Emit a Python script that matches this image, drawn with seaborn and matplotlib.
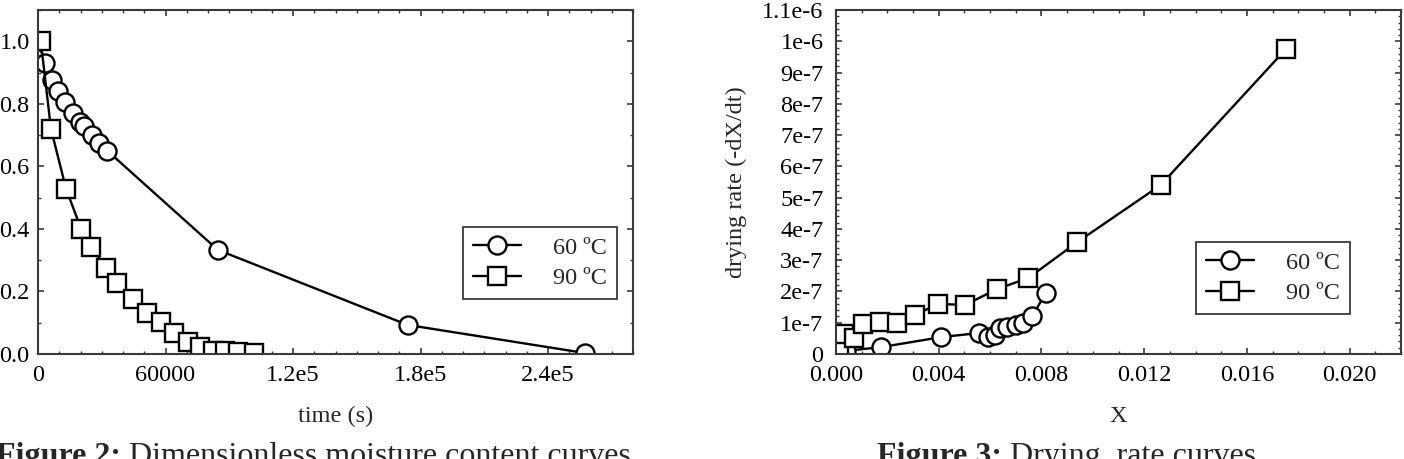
import matplotlib
matplotlib.use("Agg")
import pandas as pd
import matplotlib.pyplot as plt
import seaborn as sns
from matplotlib.ticker import MultipleLocator

# Figure 2 data: dimensionless moisture content vs time
t_60 = [0, 3300, 6600, 9400, 12700, 16500, 19800, 21700, 25500, 28800, 32600, 84600, 173900, 257500]
mr_60 = [1.0, 0.93, 0.877, 0.84, 0.807, 0.77, 0.743, 0.73, 0.70, 0.675, 0.65, 0.333, 0.093, 0.003]
t_90 = [1300, 6100, 13200, 20300, 25000, 32100, 37300, 44900, 51500, 58100, 63800,
        70400, 76100, 82200, 87900, 94000, 101600]
mr_90 = [1.0, 0.72, 0.528, 0.40, 0.343, 0.275, 0.227, 0.176, 0.131, 0.102, 0.067,
         0.038, 0.022, 0.010, 0.008, 0.005, 0.004]

# Figure 3 data: drying rate vs moisture content X
X_60 = [0.0004, 0.00176, 0.0041, 0.00555, 0.0059, 0.0062, 0.0064, 0.00667, 0.00699, 0.0073, 0.00765, 0.00816]
rate_60 = [0.10e-7, 0.22e-7, 0.54e-7, 0.67e-7, 0.54e-7, 0.60e-7, 0.83e-7, 0.86e-7, 0.93e-7, 0.99e-7, 1.21e-7, 1.95e-7]
X_90 = [0.0001, 0.0003, 0.0007, 0.00105, 0.00172, 0.00238, 0.00308, 0.00398, 0.00503,
        0.00628, 0.00749, 0.0094, 0.01264, 0.01752]
rate_90 = [0.20e-7, 0.65e-7, 0.52e-7, 0.96e-7, 1.02e-7, 0.99e-7, 1.25e-7, 1.60e-7, 1.57e-7,
           2.08e-7, 2.43e-7, 3.58e-7, 5.40e-7, 9.75e-7]

labels = ["60 ºC", "90 ºC"]

left_xticks = [0, 60000, 120000, 180000, 240000]
left_xticklabels = ["0", "60000", "1.2e5", "1.8e5", "2.4e5"]
left_yticks = [0.0, 0.2, 0.4, 0.6, 0.8, 1.0]
left_yticklabels = ["0.0", "0.2", "0.4", "0.6", "0.8", "1.0"]
right_xticks = [0.0, 0.004, 0.008, 0.012, 0.016, 0.020]
right_xticklabels = ["0.000", "0.004", "0.008", "0.012", "0.016", "0.020"]
right_yticks = [0, 1e-7, 2e-7, 3e-7, 4e-7, 5e-7, 6e-7, 7e-7, 8e-7, 9e-7, 1e-6, 1.1e-6]
right_yticklabels = ["0", "1e-7", "2e-7", "3e-7", "4e-7", "5e-7", "6e-7", "7e-7", "8e-7", "9e-7", "1e-6", "1.1e-6"]

sns.set_theme(style="ticks")
plt.rcParams['font.family'] = ['Liberation Serif', 'DejaVu Serif']

fs = 17.5
fig = plt.figure(figsize=(14.04, 4.59), dpi=100)
ax1 = fig.add_axes([38 / 1404, 1 - 354 / 459, 595 / 1404, 344 / 459])
ax2 = fig.add_axes([836 / 1404, 1 - 354 / 459, 565 / 1404, 344 / 459])

line_kw = dict(color='black', linewidth=1.7, markerfacecolor='white',
               markeredgecolor='black', markeredgewidth=1.7)

df1_60 = pd.DataFrame({'t': t_60, 'mr': mr_60})
df1_90 = pd.DataFrame({'t': t_90, 'mr': mr_90})
sns.lineplot(data=df1_60, x='t', y='mr', ax=ax1, marker='o', markersize=13, label=labels[0], **line_kw)
sns.lineplot(data=df1_90, x='t', y='mr', ax=ax1, marker='s', markersize=13.5, label=labels[1], **line_kw)

df2_60 = pd.DataFrame({'X': X_60, 'r': rate_60})
df2_90 = pd.DataFrame({'X': X_90, 'r': rate_90})
sns.lineplot(data=df2_60, x='X', y='r', ax=ax2, marker='o', markersize=13, label=labels[0], **line_kw)
sns.lineplot(data=df2_90, x='X', y='r', ax=ax2, marker='s', markersize=13.5, label=labels[1], **line_kw)

ax1.set_xlim(0, 2.8e5)
ax1.set_ylim(0, 1.1)
ax1.set_xticks(left_xticks, left_xticklabels)
ax1.set_yticks(left_yticks, left_yticklabels)
ax1.xaxis.set_minor_locator(MultipleLocator(10000))
ax1.yaxis.set_minor_locator(MultipleLocator(0.1))
ax1.set_xlabel("time (s)", fontsize=fs, labelpad=14)
ax1.set_ylabel("")

ax2.set_xlim(0, 0.022)
ax2.set_ylim(0, 1.1e-6)
ax2.set_xticks(right_xticks, right_xticklabels)
ax2.set_yticks(right_yticks, right_yticklabels)
ax2.xaxis.set_minor_locator(MultipleLocator(0.001))
ax2.yaxis.set_minor_locator(MultipleLocator(2e-8))
ax2.set_xlabel("X", fontsize=fs, labelpad=14)
ax2.set_ylabel("drying rate (-dX/dt)", fontsize=fs, labelpad=11)

for ax in (ax1, ax2):
    for sp in ax.spines.values():
        sp.set_visible(True)
        sp.set_color('#3a3a3a')
        sp.set_linewidth(1.5)
    ax.tick_params(which='both', direction='in', top=True, right=True,
                   colors='#3a3a3a', labelcolor='black', labelsize=fs)
    ax.tick_params(axis='x', which='both', pad=8)
    ax.tick_params(which='major', length=4, width=1.2)
    ax.tick_params(which='minor', length=2.5, width=1.0)
ax1.tick_params(axis='y', which='both', pad=6)
ax2.tick_params(axis='y', which='both', pad=9)

leg_kw = dict(loc='upper left', fontsize=fs, frameon=True, fancybox=False,
              edgecolor='#3a3a3a', framealpha=1, handlelength=2.0,
              handletextpad=1.3, labelspacing=0.35, borderpad=0.4,
              borderaxespad=0, bbox_transform=fig.transFigure)
lg1 = ax1.legend(bbox_to_anchor=(463 / 1404, 1 - 227 / 459), **leg_kw)
lg2 = ax2.legend(bbox_to_anchor=(1196 / 1404, 1 - 242 / 459), **leg_kw)
for lg in (lg1, lg2):
    lg.get_frame().set_linewidth(1.3)

# figure captions (cut off at the bottom of the image)
cap_fs = 23
cap_y = -5 / 459
fig.canvas.draw()
renderer = fig.canvas.get_renderer()
for x0, bold, rest in [(-4 / 1404, "Figure 2:", " Dimensionless moisture content curves"),
                       (877 / 1404, "Figure 3:", " Drying  rate curves")]:
    tb = fig.text(x0, cap_y, bold, fontsize=cap_fs, fontweight='bold', va='baseline', ha='left')
    bb = tb.get_window_extent(renderer)
    fig.text(bb.x1 / fig.bbox.width, cap_y, rest, fontsize=cap_fs, va='baseline', ha='left')

fig.savefig("out.png", dpi=100)
